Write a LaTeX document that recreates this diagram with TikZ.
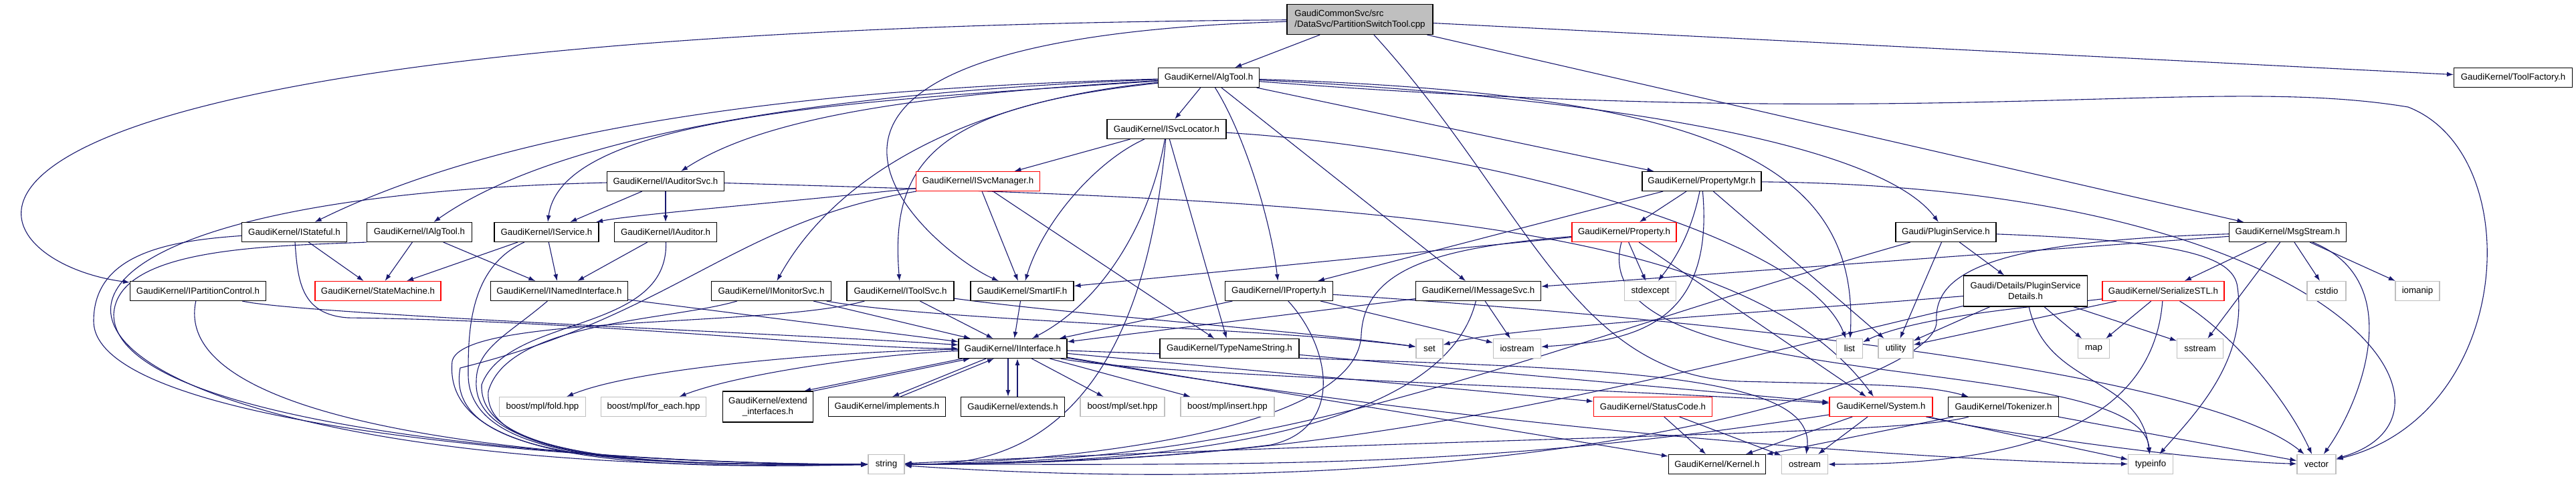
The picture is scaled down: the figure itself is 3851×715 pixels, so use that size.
\documentclass[tikz,border=0pt]{standalone}
\usepackage{fontspec}
\setmainfont{Liberation Sans}
\usetikzlibrary{arrows.meta}

\definecolor{edgeblue}{RGB}{25,25,112}
\definecolor{boxred}{RGB}{255,0,0}
\definecolor{boxgray}{RGB}{191,191,191}
\newcommand{\hdrfont}{\fontsize{13.3}{16}\selectfont}
\pgfdeclarelayer{edges}
\pgfsetlayers{edges,main}

\begin{document}
\begin{tikzpicture}[x=1pt, y=-1pt,
    hdr/.style = {draw, line width=1.1pt, fill=white, minimum height=29pt, inner sep=2pt, font=\hdrfont},
    redhdr/.style = {hdr, draw=boxred},
    syshdr/.style = {hdr, draw=boxgray},
    rootfile/.style = {hdr, fill=boxgray, minimum height=45pt, align=left},
    dep/.style = {draw=edgeblue, line width=1.1pt, -{Latex[length=10pt, width=7pt]}}]
  \useasboundingbox (0,0) rectangle (3851,715);

  % top rows
  \node[rootfile, minimum width=218pt] at (2033, 29) (root) {GaudiCommonSvc/src\\/DataSvc/PartitionSwitchTool.cpp};
  \node[hdr, minimum width=151pt] at (1807, 116) (algtool) {GaudiKernel/AlgTool.h};
  \node[hdr, minimum width=177pt] at (3757, 116) (toolfactory) {GaudiKernel/ToolFactory.h};
  \node[hdr, minimum width=178pt] at (1744, 193) (isvclocator) {GaudiKernel/ISvcLocator.h};
  \node[hdr, minimum width=175pt] at (995, 271) (iauditorsvc) {GaudiKernel/IAuditorSvc.h};
  \node[redhdr, minimum width=185pt] at (1462, 271) (isvcmanager) {GaudiKernel/ISvcManager.h};
  \node[hdr, minimum width=178pt] at (2544, 271) (propertymgr) {GaudiKernel/PropertyMgr.h};

  \node[hdr, minimum width=157pt] at (440, 347) (istateful) {GaudiKernel/IStateful.h};
  \node[hdr, minimum width=157pt] at (627, 347) (ialgtool) {GaudiKernel/IAlgTool.h};
  \node[hdr, minimum width=156pt] at (817, 347) (iservice) {GaudiKernel/IService.h};
  \node[hdr, minimum width=153pt] at (995, 347) (iauditor) {GaudiKernel/IAuditor.h};
  \node[redhdr, minimum width=156pt] at (2428, 347) (property) {GaudiKernel/Property.h};
  \node[hdr, minimum width=150pt] at (2909, 347) (pluginservice) {Gaudi/PluginService.h};
  \node[hdr, minimum width=175pt] at (3420, 347) (msgstream) {GaudiKernel/MsgStream.h};

  % middle row
  \node[hdr, minimum width=203pt] at (296, 435) (ipartitioncontrol) {GaudiKernel/IPartitionControl.h};
  \node[redhdr, minimum width=188pt] at (565, 435) (statemachine) {GaudiKernel/StateMachine.h};
  \node[hdr, minimum width=205pt] at (836, 435) (inamedinterface) {GaudiKernel/INamedInterface.h};
  \node[hdr, minimum width=179pt] at (1153, 435) (imonitorsvc) {GaudiKernel/IMonitorSvc.h};
  \node[hdr, minimum width=160pt] at (1346, 435) (itoolsvc) {GaudiKernel/IToolSvc.h};
  \node[hdr, minimum width=154pt] at (1528, 435) (smartif) {GaudiKernel/SmartIF.h};
  \node[hdr, minimum width=161pt] at (1912, 435) (iproperty) {GaudiKernel/IProperty.h};
  \node[hdr, minimum width=187pt] at (2210, 435) (imessagesvc) {GaudiKernel/IMessageSvc.h};
  \node[syshdr, minimum width=77pt] at (2467, 435) (stdexcept) {stdexcept};
  \node[hdr, minimum width=185pt, minimum height=46pt, align=center] at (3028, 435) (pluginsvcdetails) {Gaudi/Details/PluginService\\Details.h};
  \node[redhdr, minimum width=182pt] at (3234, 435) (serializestl) {GaudiKernel/SerializeSTL.h};
  \node[syshdr, minimum width=58pt] at (3478, 435) (cstdio) {cstdio};
  \node[syshdr, minimum width=66pt] at (3614, 435) (iomanip) {iomanip};

  \node[hdr, minimum width=162pt] at (1514, 521) (iinterface) {GaudiKernel/IInterface.h};
  \node[hdr, minimum width=208pt] at (1838, 521) (typenamestring) {GaudiKernel/TypeNameString.h};
  \node[syshdr, minimum width=40pt] at (2137, 521) (set) {set};
  \node[syshdr, minimum width=71pt] at (2268, 521) (iostream) {iostream};
  \node[syshdr, minimum width=39pt] at (2765, 521) (list) {list};
  \node[syshdr, minimum width=52pt] at (2834, 521) (utility) {utility};
  \node[syshdr, minimum width=47pt] at (3130, 521) (map) {map};
  \node[syshdr, minimum width=69pt] at (3289, 521) (sstream) {sstream};

  % bottom rows
  \node[syshdr, minimum width=129pt] at (811, 608) (fold) {boost/mpl/fold.hpp};
  \node[syshdr, minimum width=157pt] at (977, 608) (foreach) {boost/mpl/for\_each.hpp};
  \node[hdr, minimum width=135pt, minimum height=46pt, align=center] at (1148, 608) (extendif) {GaudiKernel/extend\\\_interfaces.h};
  \node[hdr, minimum width=175pt] at (1326, 608) (implements) {GaudiKernel/implements.h};
  \node[hdr, minimum width=155pt] at (1514, 608) (extends) {GaudiKernel/extends.h};
  \node[syshdr, minimum width=126pt] at (1678, 608) (mplset) {boost/mpl/set.hpp};
  \node[syshdr, minimum width=140pt] at (1835, 608) (mplinsert) {boost/mpl/insert.hpp};
  \node[redhdr, minimum width=177pt] at (2471, 608) (statuscode) {GaudiKernel/StatusCode.h};
  \node[redhdr, minimum width=154pt] at (2812, 608) (system) {GaudiKernel/System.h};
  \node[hdr, minimum width=165pt] at (2995, 608) (tokenizer) {GaudiKernel/Tokenizer.h};

  \node[syshdr, minimum width=54pt] at (1325, 694) (string) {string};
  \node[hdr, minimum width=145pt] at (2567, 694) (kernel) {GaudiKernel/Kernel.h};
  \node[syshdr, minimum width=69pt] at (2698, 694) (ostream) {ostream};
  \node[syshdr, minimum width=67pt] at (3215, 694) (typeinfo) {typeinfo};
  \node[syshdr, minimum width=58pt] at (3463, 694) (vector) {vector};

  \begin{pgfonlayer}{edges}
    \fill[white] (0,0) rectangle (3851,715);

    % PartitionSwitchTool.cpp
    \draw [dep] (root) -- (algtool);
    \draw [dep] (root) .. controls (-300,45) and (-60,390) .. (ipartitioncontrol);
    \draw [dep] (root) .. controls (1000,60) and (1400,380) .. (smartif);
    \draw [dep] (root) .. controls (2280,300) and (2350,560) .. (2600,570) .. controls (2800,575) and (2880,575) .. (tokenizer);
    \draw [dep] (root) -- (msgstream);
    \draw [dep] (root) -- (toolfactory);

    % AlgTool.h
    \draw [dep] (algtool) .. controls (1300,130) and (800,170) .. (istateful);
    \draw [dep] (algtool) .. controls (1300,135) and (850,190) .. (ialgtool);
    \draw [dep] (algtool) .. controls (1300,150) and (840,170) .. (iservice);
    \draw [dep] (algtool) .. controls (1400,140) and (1150,170) .. (iauditorsvc);
    \draw [dep] (algtool) .. controls (1450,150) and (1250,260) .. (imonitorsvc);
    \draw [dep] (algtool) .. controls (1400,160) and (1330,240) .. (itoolsvc);
    \draw [dep] (algtool) -- (isvclocator);
    \draw [dep] (algtool) .. controls (1860,200) and (1900,330) .. (iproperty);
    \draw [dep] (algtool) -- (imessagesvc);
    \draw [dep] (algtool) -- (propertymgr);
    \draw [dep] (algtool) .. controls (2300,140) and (2800,200) .. (pluginservice);
    \draw [dep] (algtool) .. controls (2550,140) and (2780,240) .. (list);
    \draw [dep] (algtool) .. controls (2900,200) and (3300,110) .. (3600,160) .. controls (3780,230) and (3760,620) .. (vector);

    % ISvcLocator.h, ISvcManager.h
    \draw [dep] (isvclocator) -- (isvcmanager);
    \draw [dep] (isvclocator) .. controls (1640,240) and (1560,330) .. (smartif);
    \draw [dep] (isvclocator) .. controls (1720,330) and (1650,450) .. (iinterface);
    \draw [dep] (isvclocator) -- (typenamestring);
    \draw [dep] (isvclocator) .. controls (2200,220) and (2700,350) .. (list);
    \draw [dep] (isvclocator) .. controls (1700,700) and (1450,694) .. (string);
    \draw [dep] (isvcmanager) .. controls (1200,300) and (950,320) .. (iservice);
    \draw [dep] (isvcmanager) -- (smartif);
    \draw [dep] (isvcmanager) -- (typenamestring);
    \draw [dep] (isvcmanager) .. controls (1100,330) and (1010,470) .. (688,550) .. controls (660,700) and (1000,694) .. (string);

    % IAuditorSvc.h
    \draw [dep] (iauditorsvc) -- (iservice);
    \draw [dep] (iauditorsvc) -- (iauditor);
    \draw [dep] (iauditorsvc) .. controls (-250,300) and (0,720) .. (string);
    \draw [dep] (iauditorsvc) .. controls (2000,300) and (2600,320) .. (system);

    % PropertyMgr.h
    \draw [dep] (propertymgr) -- (property);
    \draw [dep] (propertymgr) -- (iproperty);
    \draw [dep] (propertymgr) .. controls (2530,340) and (2510,380) .. (stdexcept);
    \draw [dep] (propertymgr) .. controls (2565,500) and (2420,510) .. (iostream);
    \draw [dep] (propertymgr) -- (utility);
    \draw [dep] (propertymgr) .. controls (3500,280) and (3720,620) .. (vector);

    % IStateful.h, IAlgTool.h, IService.h, IAuditor.h
    \draw [dep] (istateful) -- (statemachine);
    \draw [dep] (istateful) .. controls (445,420) and (450,470) .. (520,475) .. controls (900,480) and (1250,521) .. (iinterface);
    \draw [dep] (istateful) .. controls (250,360) and (140,380) .. (140,480) .. controls (140,640) and (900,694) .. (string);
    \draw [dep] (ialgtool) -- (statemachine);
    \draw [dep] (ialgtool) -- (inamedinterface);
    \draw [dep] (ialgtool.south west) .. controls (400,368) and (175,370) .. (170,470) .. controls (170,640) and (900,694) .. (string);
    \draw [dep] (iservice) -- (statemachine);
    \draw [dep] (iservice) -- (inamedinterface);
    \draw [dep] (iservice) .. controls (700,400) and (700,500) .. (700,560) .. controls (700,700) and (1000,694) .. (string);
    \draw [dep] (iauditor) -- (inamedinterface);
    \draw [dep] (iauditor) .. controls (1000,500) and (760,470) .. (720,575) .. controls (715,700) and (1050,694) .. (string);

    % IPartitionControl.h, INamedInterface.h
    \draw [dep] (ipartitioncontrol) .. controls (450,470) and (1200,500) .. (iinterface);
    \draw [dep] (ipartitioncontrol) .. controls (250,650) and (900,694) .. (string);
    \draw [dep] (inamedinterface) -- (iinterface);
    \draw [dep] (inamedinterface) .. controls (760,500) and (712,520) .. (712,570) .. controls (705,700) and (1050,694) .. (string);

    % IMonitorSvc.h, IToolSvc.h, SmartIF.h
    \draw [dep] (imonitorsvc) -- (iinterface);
    \draw [dep] (imonitorsvc) .. controls (1400,480) and (1900,490) .. (set);
    \draw [dep] (imonitorsvc) .. controls (1000,480) and (760,480) .. (730,585) .. controls (720,700) and (1050,694) .. (string);
    \draw [dep] (itoolsvc) -- (iinterface);
    \draw [dep] (itoolsvc) .. controls (1600,470) and (1950,495) .. (set);
    \draw [dep] (itoolsvc) .. controls (1150,490) and (690,470) .. (676,540) .. controls (660,700) and (1000,700) .. (string);
    \draw [dep] (smartif) -- (iinterface);

    % IProperty.h, IMessageSvc.h
    \draw [dep] (iproperty) -- (iinterface);
    \draw [dep] (iproperty) -- (iostream);
    \draw [dep] (iproperty) .. controls (2600,480) and (3300,560) .. (vector);
    \draw [dep] (iproperty) .. controls (1990,520) and (2010,640) .. (1900,665) .. controls (1700,690) and (1450,694) .. (string);
    \draw [dep] (imessagesvc) -- (iinterface);
    \draw [dep] (imessagesvc) -- (iostream);
    \draw [dep] (imessagesvc) .. controls (2150,680) and (1600,694) .. (string);

    % Property.h
    \draw [dep] (property) -- (stdexcept);
    \draw [dep] (property) -- (system);
    \draw [dep] (property) -- (smartif);
    \draw [dep] (property) .. controls (2360,600) and (3200,520) .. (typeinfo);
    \draw [dep] (property) .. controls (2150,370) and (2040,400) .. (2035,500) .. controls (2030,660) and (1500,694) .. (string);

    % PluginService.h, PluginServiceDetails.h
    \draw [dep] (pluginservice) -- (pluginsvcdetails);
    \draw [dep] (pluginservice) -- (utility);
    \draw [dep] (pluginservice) .. controls (3250,360) and (3340,380) .. (3345,430) .. controls (3360,540) and (3280,620) .. (typeinfo);
    \draw [dep] (pluginservice) .. controls (2261,530) and (1945,694) .. (string);
    \draw [dep] (pluginsvcdetails) .. controls (2600,470) and (2250,490) .. (set);
    \draw [dep] (pluginsvcdetails) -- (utility);
    \draw [dep] (pluginsvcdetails) -- (map);
    \draw [dep] (pluginsvcdetails) -- (sstream);
    \draw [dep] (pluginsvcdetails) .. controls (3060,580) and (3200,560) .. (typeinfo);
    \draw [dep] (pluginsvcdetails) .. controls (2331,602) and (1977,694) .. (string);

    % MsgStream.h, SerializeSTL.h
    \draw [dep] (msgstream) -- (imessagesvc);
    \draw [dep] (msgstream) -- (serializestl);
    \draw [dep] (msgstream) -- (cstdio);
    \draw [dep] (msgstream) -- (iomanip);
    \draw [dep] (msgstream) -- (sstream);
    \draw [dep] (msgstream) .. controls (3600,420) and (3530,600) .. (vector);
    \draw [dep] (msgstream) .. controls (3000,360) and (2890,400) .. (2895,480) .. controls (2900,570) and (2300,760) .. (string);
    \draw [dep] (serializestl) .. controls (3080,455) and (2870,470) .. (list);
    \draw [dep] (serializestl) -- (utility);
    \draw [dep] (serializestl) -- (map);
    \draw [dep] (serializestl) .. controls (3340,500) and (3420,600) .. (vector);
    \draw [dep] (serializestl) .. controls (3216,666) and (2951,694) .. (ostream);

    % IInterface.h
    \draw [dep] (iinterface) .. controls (1250,525) and (950,550) .. (fold);
    \draw [dep] (iinterface) .. controls (1300,530) and (1100,560) .. (foreach);
    \draw [dep] ([xshift=-75pt]iinterface.south) -- ([xshift=-14pt]extendif.north east);
    \draw [dep] (extendif.north east) -- ([xshift=-64pt]iinterface.south);
    \draw [dep] ([xshift=-40pt]iinterface.south) -- ([xshift=8pt]implements.north);
    \draw [dep] ([xshift=20pt]implements.north) -- ([xshift=-28pt]iinterface.south);
    \draw [dep] ([xshift=-7pt]iinterface.south) -- ([xshift=-7pt]extends.north);
    \draw [dep] ([xshift=7pt]extends.north) -- ([xshift=7pt]iinterface.south);
    \draw [dep] (iinterface) -- (mplset);
    \draw [dep] (iinterface) -- (mplinsert);
    \draw [dep] (iinterface) -- (statuscode);
    \draw [dep] (iinterface) .. controls (1700,560) and (2400,580) .. (system);
    \draw [dep] (iinterface) -- (kernel);
    \draw [dep] (iinterface) .. controls (2300,550) and (2720,540) .. (ostream);
    \draw [dep] (iinterface) .. controls (2200,640) and (2900,690) .. (typeinfo);

    % TypeNameString.h
    \draw [dep] (typenamestring) -- (system);

    % StatusCode.h, System.h, Tokenizer.h
    \draw [dep] (statuscode) -- (kernel);
    \draw [dep] (statuscode) -- (ostream);
    \draw [dep] (system) -- (kernel);
    \draw [dep] (system) -- (ostream);
    \draw [dep] (system) -- (typeinfo);
    \draw [dep] (system) .. controls (3000,650) and (3300,690) .. (vector);
    \draw [dep] (system) .. controls (2203,702) and (1892,694) .. (string);
    \draw [dep] (tokenizer) -- (kernel);
    \draw [dep] (tokenizer) -- (vector);
    \draw [dep] (tokenizer) .. controls (2850,650) and (2300,650) .. (string);
  \end{pgfonlayer}
\end{tikzpicture}
\end{document}
